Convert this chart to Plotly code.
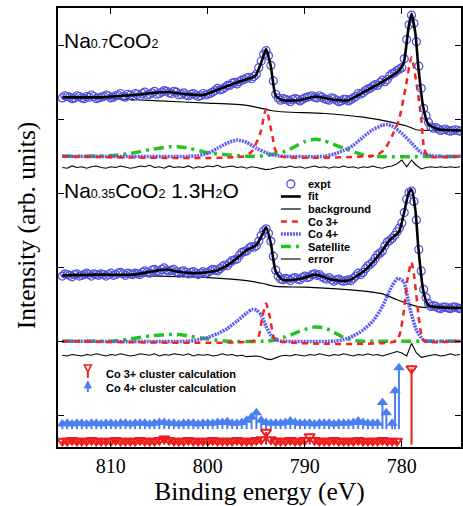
import plotly.graph_objects as go

# ---------------- data ----------------
X_TICKS = [810, 800, 790, 780]
Y_TICKS = [0, 1, 2, 3, 4, 5]

# sampling grids (binding energy, eV)
E_EXPT = [815.0 - 0.25 * i for i in range(165)]
E_ERR = [815.0 - 0.5 * i for i in range(83)]

# --- Na0.7CoO2 ---
EXPT_1 = [4.29, 4.32, 4.31, 4.30, 4.28, 4.29, 4.32, 4.31, 4.29, 4.28,
          4.31, 4.30, 4.33, 4.31, 4.28, 4.29, 4.30, 4.31, 4.33, 4.32,
          4.29, 4.30, 4.32, 4.33, 4.35, 4.31, 4.30, 4.34, 4.33, 4.31,
          4.35, 4.34, 4.32, 4.35, 4.37, 4.33, 4.34, 4.36, 4.38, 4.34,
          4.35, 4.37, 4.39, 4.38, 4.36, 4.35, 4.38, 4.37, 4.33, 4.34,
          4.36, 4.33, 4.32, 4.34, 4.35, 4.33, 4.31, 4.32, 4.35, 4.33,
          4.34, 4.35, 4.37, 4.39, 4.42, 4.40, 4.41, 4.43, 4.46, 4.46,
          4.49, 4.50, 4.48, 4.51, 4.53, 4.54, 4.56, 4.57, 4.55, 4.58,
          4.61, 4.70, 4.79, 4.88, 4.93, 4.86, 4.73, 4.52, 4.34, 4.29,
          4.26, 4.28, 4.27, 4.26, 4.24, 4.27, 4.28, 4.27, 4.25, 4.27,
          4.29, 4.30, 4.31, 4.32, 4.30, 4.29, 4.32, 4.30, 4.28, 4.27,
          4.26, 4.29, 4.28, 4.26, 4.24, 4.25, 4.27, 4.27, 4.25, 4.27,
          4.29, 4.31, 4.35, 4.34, 4.36, 4.39, 4.41, 4.42, 4.45, 4.47,
          4.46, 4.50, 4.53, 4.51, 4.54, 4.59, 4.62, 4.63, 4.66, 4.68,
          4.70, 4.82, 5.08, 5.28, 5.41, 5.30, 5.05, 4.72, 4.42, 4.15,
          4.05, 3.96, 3.90, 3.88, 3.89, 3.87, 3.85, 3.86, 3.87, 3.85,
          3.84, 3.85, 3.86, 3.85, 3.84]
ERR_1 = [3.35, 3.34, 3.37, 3.35, 3.36, 3.34, 3.36, 3.37, 3.35, 3.34,
         3.36, 3.35, 3.37, 3.36, 3.34, 3.35, 3.37, 3.36, 3.38, 3.35,
         3.36, 3.34, 3.37, 3.35, 3.36, 3.35, 3.37, 3.34, 3.36, 3.35,
         3.37, 3.36, 3.38, 3.35, 3.36, 3.37, 3.35, 3.36, 3.34, 3.36,
         3.35, 3.34, 3.32, 3.33, 3.34, 3.36, 3.35, 3.37, 3.35, 3.36,
         3.34, 3.36, 3.37, 3.35, 3.36, 3.34, 3.36, 3.35, 3.37, 3.35,
         3.36, 3.34, 3.36, 3.35, 3.37, 3.35, 3.34, 3.36, 3.37, 3.40,
         3.45, 3.36, 3.45, 3.38, 3.33, 3.35, 3.36, 3.35, 3.36, 3.35,
         3.36, 3.35, 3.36]
FIT_1_E = [815.0, 811.1, 807.7, 804.3, 802.2, 800.5, 798.8, 796.8, 795.1, 794.5,
           794.0, 793.5, 793.0, 792.3, 790.6, 788.9, 787.2, 785.5, 783.8, 782.1,
           780.3, 779.8, 779.3, 779.0, 778.6, 778.3, 777.8, 777.3, 776.3, 773.9]
FIT_1_V = [4.30, 4.30, 4.33, 4.37, 4.34, 4.33, 4.41, 4.51, 4.59, 4.77,
           4.95, 4.71, 4.32, 4.26, 4.26, 4.31, 4.27, 4.26, 4.38, 4.50,
           4.66, 4.77, 5.25, 5.43, 5.16, 4.71, 4.17, 3.94, 3.87, 3.85]
BG_1_E = [815.0, 810.0, 805.0, 800.0, 796.0, 794.5, 793.5, 792.0, 788.0, 784.0,
          781.0, 779.5, 778.5, 777.0, 773.9]
BG_1_V = [4.29, 4.28, 4.25, 4.22, 4.19, 4.15, 4.12, 4.10, 4.08, 4.03,
          3.96, 3.91, 3.86, 3.85, 3.85]
CO3_1_E = [815.0, 796.3, 795.5, 794.6, 794.0, 793.4, 793.0, 792.5, 783.5, 782.5,
           781.7, 781.0, 780.3, 779.6, 779.0, 778.4, 778.0, 777.7, 777.3, 773.9]
CO3_1_V = [3.50, 3.50, 3.56, 3.81, 4.14, 3.81, 3.57, 3.50, 3.50, 3.52,
           3.61, 3.78, 3.99, 4.44, 4.84, 4.41, 4.01, 3.61, 3.50, 3.50]
CO4_1_E = [815.0, 802.0, 801.0, 800.0, 799.0, 798.0, 797.0, 796.0, 795.0, 794.0,
           793.0, 792.0, 788.0, 787.0, 786.0, 785.0, 784.0, 783.0, 782.0, 781.5,
           781.0, 780.0, 779.0, 778.0, 777.0, 776.0, 773.9]
CO4_1_V = [3.50, 3.50, 3.51, 3.54, 3.61, 3.68, 3.72, 3.69, 3.61, 3.55,
           3.51, 3.50, 3.50, 3.53, 3.58, 3.65, 3.76, 3.86, 3.92, 3.93,
           3.91, 3.81, 3.68, 3.55, 3.51, 3.50, 3.50]
SAT_1_E = [815.0, 810.0, 808.0, 806.0, 804.0, 803.0, 802.0, 800.0, 798.0, 796.0,
           794.0, 792.0, 790.0, 789.0, 788.0, 786.0, 784.0, 783.0, 773.9]
SAT_1_V = [3.50, 3.51, 3.54, 3.59, 3.63, 3.63, 3.61, 3.55, 3.52, 3.50,
           3.51, 3.57, 3.70, 3.73, 3.71, 3.61, 3.52, 3.50, 3.50]

# --- Na0.35CoO2 1.3H2O ---
EXPT_2 = [1.88, 1.91, 1.90, 1.89, 1.87, 1.90, 1.91, 1.88, 1.89, 1.90,
          1.92, 1.90, 1.88, 1.91, 1.90, 1.89, 1.91, 1.90, 1.88, 1.90,
          1.92, 1.89, 1.90, 1.92, 1.93, 1.91, 1.89, 1.92, 1.91, 1.90,
          1.92, 1.91, 1.90, 1.93, 1.95, 1.93, 1.92, 1.96, 1.97, 1.95,
          1.94, 1.97, 1.99, 1.96, 1.95, 1.96, 1.97, 1.94, 1.92, 1.94,
          1.95, 1.93, 1.91, 1.93, 1.94, 1.92, 1.90, 1.92, 1.94, 1.92,
          1.93, 1.95, 1.97, 1.96, 1.95, 1.98, 2.01, 2.03, 2.02, 2.06,
          2.09, 2.10, 2.11, 2.16, 2.20, 2.21, 2.22, 2.26, 2.28, 2.27,
          2.29, 2.35, 2.43, 2.49, 2.52, 2.46, 2.35, 2.15, 1.96, 1.88,
          1.84, 1.83, 1.85, 1.84, 1.82, 1.85, 1.86, 1.84, 1.83, 1.86,
          1.88, 1.86, 1.87, 1.90, 1.91, 1.89, 1.90, 1.87, 1.85, 1.84,
          1.86, 1.83, 1.81, 1.83, 1.84, 1.82, 1.81, 1.82, 1.83, 1.82,
          1.85, 1.88, 1.92, 1.90, 1.93, 1.98, 2.02, 2.04, 2.07, 2.12,
          2.17, 2.19, 2.22, 2.29, 2.34, 2.36, 2.39, 2.43, 2.48, 2.53,
          2.60, 2.74, 2.92, 3.01, 3.03, 2.89, 2.64, 2.24, 1.95, 1.70,
          1.59, 1.51, 1.47, 1.48, 1.47, 1.45, 1.44, 1.46, 1.46, 1.45,
          1.44, 1.46, 1.46, 1.45, 1.44]
ERR_2 = [0.81, 0.80, 0.82, 0.81, 0.80, 0.82, 0.81, 0.83, 0.81, 0.80,
         0.82, 0.81, 0.83, 0.82, 0.80, 0.81, 0.83, 0.82, 0.81, 0.83,
         0.80, 0.82, 0.81, 0.83, 0.82, 0.81, 0.83, 0.80, 0.82, 0.81,
         0.82, 0.80, 0.81, 0.83, 0.81, 0.82, 0.80, 0.81, 0.79, 0.80,
         0.80, 0.79, 0.76, 0.75, 0.78, 0.80, 0.81, 0.80, 0.82, 0.81,
         0.80, 0.82, 0.81, 0.83, 0.81, 0.80, 0.82, 0.81, 0.83, 0.81,
         0.80, 0.82, 0.81, 0.83, 0.81, 0.82, 0.80, 0.82, 0.84, 0.86,
         0.84, 0.80, 0.97, 0.84, 0.78, 0.80, 0.81, 0.82, 0.80, 0.81,
         0.83, 0.81, 0.82]
FIT_2_E = [815.0, 811.0, 807.7, 805.5, 804.3, 803.0, 801.0, 799.0, 797.5, 796.0,
           795.0, 794.5, 794.0, 793.5, 793.0, 792.3, 790.6, 788.9, 787.2, 785.5,
           783.8, 782.1, 781.3, 780.3, 779.8, 779.3, 779.0, 778.6, 778.3, 777.8,
           777.3, 776.3, 773.9]
FIT_2_V = [1.89, 1.90, 1.90, 1.95, 1.97, 1.94, 1.92, 1.96, 2.07, 2.23,
           2.30, 2.41, 2.54, 2.32, 1.94, 1.83, 1.84, 1.90, 1.83, 1.82,
           1.96, 2.21, 2.36, 2.48, 2.72, 3.00, 3.05, 2.77, 2.27, 1.69,
           1.49, 1.46, 1.45]
BG_2_E = [815.0, 805.0, 800.0, 796.0, 794.3, 793.0, 790.0, 785.0, 782.0, 780.5,
          779.0, 778.0, 773.9]
BG_2_V = [1.89, 1.88, 1.86, 1.82, 1.78, 1.74, 1.73, 1.69, 1.64, 1.56,
          1.49, 1.46, 1.45]
CO3_2_E = [815.0, 795.4, 794.8, 794.4, 794.0, 793.6, 793.2, 792.8, 780.6, 780.2,
           779.8, 779.4, 779.0, 778.7, 778.3, 778.0, 777.7, 773.9]
CO3_2_V = [1.00, 1.00, 1.05, 1.32, 1.51, 1.32, 1.05, 1.00, 1.00, 1.10,
           1.40, 1.85, 2.07, 1.85, 1.37, 1.10, 1.00, 1.00]
CO4_2_E = [815.0, 802.0, 801.0, 800.0, 799.0, 798.0, 797.0, 796.0, 795.4, 795.0,
           794.5, 794.0, 793.5, 793.0, 792.4, 787.0, 786.0, 785.0, 784.0, 783.0,
           782.0, 781.0, 780.4, 779.8, 779.2, 778.5, 777.8, 777.2, 773.9]
CO4_2_V = [1.00, 1.00, 1.02, 1.05, 1.10, 1.17, 1.27, 1.38, 1.43, 1.42,
           1.35, 1.20, 1.08, 1.02, 1.00, 1.00, 1.02, 1.07, 1.15, 1.27,
           1.47, 1.75, 1.85, 1.80, 1.46, 1.15, 1.02, 1.00, 1.00]
SAT_2_E = [815.0, 810.0, 808.0, 806.0, 804.0, 803.0, 802.0, 800.0, 798.0, 794.0,
           793.0, 792.0, 791.0, 790.0, 789.0, 788.0, 787.0, 786.0, 785.0, 784.0,
           773.9]
SAT_2_V = [1.00, 1.00, 1.03, 1.07, 1.09, 1.09, 1.07, 1.03, 1.00, 1.00,
           1.02, 1.06, 1.11, 1.16, 1.19, 1.18, 1.12, 1.05, 1.01, 1.00,
           1.00]

# --- cluster calculations (stick spectra) ---
CO3_CLUSTER_E = [815.0 - 0.5 * i for i in range(70)] + [779.0]
CO3_CLUSTER_V = [-0.35, -0.35, -0.34, -0.35, -0.35, -0.35, -0.34, -0.35, -0.35, -0.35,
                 -0.35, -0.34, -0.35, -0.35, -0.35, -0.35, -0.34, -0.35, -0.35, -0.35,
                 -0.34, -0.32, -0.34, -0.35, -0.35, -0.35, -0.34, -0.35, -0.35, -0.35,
                 -0.35, -0.34, -0.35, -0.35, -0.35, -0.35, -0.34, -0.35, -0.35, -0.35,
                 -0.34, -0.33, -0.23, -0.33, -0.35, -0.35, -0.35, -0.34, -0.35, -0.35,
                 -0.34, -0.29, -0.34, -0.35, -0.35, -0.35, -0.34, -0.35, -0.35, -0.35,
                 -0.35, -0.34, -0.35, -0.35, -0.35, -0.35, -0.34, -0.35, -0.35, -0.35,
                 0.63]
CO3_CLUSTER_BASE = -0.40
CO4_CLUSTER_E = [815.0 - 0.5 * i for i in range(67)] + [781.6, 781.0, 780.7, 780.3]
CO4_CLUSTER_V = [-0.12, -0.11, -0.12, -0.11, -0.11, -0.12, -0.11, -0.11, -0.12, -0.11,
                 -0.11, -0.12, -0.11, -0.11, -0.12, -0.11, -0.11, -0.11, -0.12, -0.11,
                 -0.10, -0.10, -0.11, -0.11, -0.12, -0.11, -0.11, -0.11, -0.12, -0.11,
                 -0.11, -0.11, -0.10, -0.10, -0.09, -0.11, -0.11, -0.10, -0.07, -0.03,
                 0.03, -0.07, -0.10, -0.11, -0.11, -0.11, -0.10, -0.08, -0.10, -0.11,
                 -0.11, -0.11, -0.12, -0.11, -0.11, -0.11, -0.12, -0.11, -0.11, -0.11,
                 -0.10, -0.08, -0.10, -0.11, -0.11, -0.11, 0.17,
                 0.03, -0.11, 0.33, 0.64]
CO4_CLUSTER_BASE = -0.19

# ---------------- styles ----------------
C_EXPT = "#5050dc"
C_CO4 = "#5a5af2"
C_CO3 = "#f42222"
C_SAT = "#22c422"
C_RED_STICK = "#ee1c1c"
C_BLUE_STICK = "#4a7ff0"
DASH_CO3 = "6px,5px"
DASH_CO4 = "2px,1px"
DASH_SAT = "10px,5px,3px,5px"
SERIF = "Liberation Serif"
SANS = "Liberation Sans"

fig = go.Figure()


def add_spectrum(expt, err, fit_e, fit_v, bg_e, bg_v, c3e, c3v, c4e, c4v, se, sv):
    fig.add_trace(go.Scatter(x=bg_e, y=bg_v, mode="lines",
                             line=dict(color="black", width=1.2, shape="spline", smoothing=0.6)))
    fig.add_trace(go.Scatter(x=se, y=sv, mode="lines",
                             line=dict(color=C_SAT, width=3.5, dash=DASH_SAT, shape="spline", smoothing=0.6)))
    fig.add_trace(go.Scatter(x=c4e, y=c4v, mode="lines",
                             line=dict(color=C_CO4, width=3.5, dash=DASH_CO4, shape="spline", smoothing=0.6)))
    fig.add_trace(go.Scatter(x=c3e, y=c3v, mode="lines",
                             line=dict(color=C_CO3, width=2.5, dash=DASH_CO3, shape="spline", smoothing=0.6)))
    fig.add_trace(go.Scatter(x=E_EXPT, y=expt, mode="markers",
                             marker=dict(symbol="circle-open", size=8, color=C_EXPT, line=dict(width=1.2))))
    fig.add_trace(go.Scatter(x=fit_e, y=fit_v, mode="lines",
                             line=dict(color="black", width=2.6, shape="spline", smoothing=0.6)))
    fig.add_trace(go.Scatter(x=E_ERR, y=err, mode="lines",
                             line=dict(color="black", width=1.1)))


add_spectrum(EXPT_1, ERR_1, FIT_1_E, FIT_1_V, BG_1_E, BG_1_V,
             CO3_1_E, CO3_1_V, CO4_1_E, CO4_1_V, SAT_1_E, SAT_1_V)
add_spectrum(EXPT_2, ERR_2, FIT_2_E, FIT_2_V, BG_2_E, BG_2_V,
             CO3_2_E, CO3_2_V, CO4_2_E, CO4_2_V, SAT_2_E, SAT_2_V)


def stick_xy(es, vs, base):
    xs, ys = [], []
    for e, v in zip(es, vs):
        xs += [e, e, None]
        ys += [base, v, None]
    return xs, ys


bx, by = stick_xy(CO4_CLUSTER_E, CO4_CLUSTER_V, CO4_CLUSTER_BASE)
fig.add_trace(go.Scatter(x=bx, y=by, mode="lines", line=dict(color=C_BLUE_STICK, width=2)))
fig.add_trace(go.Scatter(x=CO4_CLUSTER_E, y=CO4_CLUSTER_V, mode="markers",
                         marker=dict(symbol="triangle-up", size=10, color=C_BLUE_STICK, line=dict(width=0))))
rx, ry = stick_xy(CO3_CLUSTER_E, CO3_CLUSTER_V, CO3_CLUSTER_BASE)
fig.add_trace(go.Scatter(x=rx, y=ry, mode="lines", line=dict(color=C_RED_STICK, width=2)))
fig.add_trace(go.Scatter(x=CO3_CLUSTER_E, y=CO3_CLUSTER_V, mode="markers",
                         marker=dict(symbol="triangle-down-open", size=9, color=C_RED_STICK, line=dict(width=2))))

# ---------------- layout ----------------
L, R, T, B = 58, 0, 8, 59
W, H = 463, 506
PW, PH = W - L - R, H - T - B


def px(x):
    return (x - L) / PW


def py(y):
    return (H - B - y) / PH


fig.update_layout(
    width=W, height=H, margin=dict(l=L, r=R, t=T, b=B),
    plot_bgcolor="white", paper_bgcolor="white", showlegend=False,
)
fig.update_xaxes(
    range=[815.45, 773.9], tickvals=X_TICKS, ticks="inside", ticklen=6, tickwidth=1.2,
    tickcolor="black", showline=True, linecolor="black", linewidth=1.5, mirror="ticks",
    showgrid=False, zeroline=False,
    tickfont=dict(family=SERIF, size=20, color="black"),
    title=dict(text="Binding energy (eV)", font=dict(family=SERIF, size=25.5, color="black"), standoff=1),
)
fig.update_yaxes(
    range=[-0.432, 5.507], tickvals=Y_TICKS, showticklabels=False, ticks="inside", ticklen=6,
    tickwidth=1.2, tickcolor="black", showline=True, linecolor="black", linewidth=1.5,
    mirror="ticks", showgrid=False, zeroline=False,
)

SUB = '<span style="font-size:12.5px">{}</span>'
ann = []
ann.append(dict(text="Intensity (arb. units)", x=px(27), y=py(225), xref="paper", yref="paper",
                textangle=-90, showarrow=False, xanchor="center", yanchor="middle",
                font=dict(family=SERIF, size=25.5, color="black")))
ann.append(dict(text="Na" + SUB.format("0.7") + "CoO" + SUB.format("2"),
                x=px(62), y=py(40), xref="paper", yref="paper",
                showarrow=False, xanchor="left", yanchor="middle",
                font=dict(family=SANS, size=21, color="black")))
ann.append(dict(text="Na" + SUB.format("0.35") + "CoO" + SUB.format("2") + " 1.3H" + SUB.format("2") + "O",
                x=px(62), y=py(190), xref="paper", yref="paper",
                showarrow=False, xanchor="left", yanchor="middle",
                font=dict(family=SANS, size=21, color="black")))

LEG_LABELS = ["expt", "fit", "background", "Co 3+", "Co 4+", "Satellite", "error"]
LEG_ROWS = [184, 196.5, 209, 221.5, 234, 246.5, 259]
for lab, yy in zip(LEG_LABELS, LEG_ROWS):
    ann.append(dict(text=lab, x=px(307), y=py(yy), xref="paper", yref="paper",
                    showarrow=False, xanchor="left", yanchor="middle",
                    font=dict(family=SANS, size=11, color="black", weight="bold")))

LEG2_LABELS = ["Co 3+ cluster calculation", "Co 4+ cluster calculation"]
LEG2_ROWS = [374, 388]
for lab, yy in zip(LEG2_LABELS, LEG2_ROWS):
    ann.append(dict(text=lab, x=px(104), y=py(yy), xref="paper", yref="paper",
                    showarrow=False, xanchor="left", yanchor="middle",
                    font=dict(family=SANS, size=11, color="black", weight="bold")))

shapes = []
# legend keys (top)
shapes.append(dict(type="circle", xref="paper", yref="paper",
                   x0=px(288), x1=px(296), y0=py(188), y1=py(180),
                   line=dict(color=C_EXPT, width=1.3)))
key_styles = [("black", 2.6, "solid"), ("black", 1.2, "solid"), (C_CO3, 2.5, DASH_CO3),
              (C_CO4, 3.5, DASH_CO4), (C_SAT, 3.5, DASH_SAT), ("black", 1.1, "solid")]
for (col, w, d), yy in zip(key_styles, LEG_ROWS[1:]):
    shapes.append(dict(type="line", xref="paper", yref="paper",
                       x0=px(282), x1=px(302), y0=py(yy), y1=py(yy),
                       line=dict(color=col, width=w, dash=d)))
# legend keys (bottom)
shapes.append(dict(type="path", xref="paper", yref="paper",
                   path=f"M {px(84.5)},{py(365)} L {px(91.5)},{py(365)} L {px(88)},{py(372)} Z",
                   line=dict(color=C_RED_STICK, width=1.6)))
shapes.append(dict(type="line", xref="paper", yref="paper", x0=px(88), x1=px(88),
                   y0=py(372), y1=py(378), line=dict(color=C_RED_STICK, width=2)))
shapes.append(dict(type="path", xref="paper", yref="paper",
                   path=f"M {px(84.5)},{py(388)} L {px(91.5)},{py(388)} L {px(88)},{py(381)} Z",
                   fillcolor=C_BLUE_STICK, line=dict(color=C_BLUE_STICK, width=1)))
shapes.append(dict(type="line", xref="paper", yref="paper", x0=px(88), x1=px(88),
                   y0=py(387), y1=py(392), line=dict(color=C_BLUE_STICK, width=2)))

fig.update_layout(annotations=ann, shapes=shapes)

fig.write_html("out.html", config={"displayModeBar": False},
               post_script="document.body.style.margin='0';document.body.style.overflow='hidden';")
